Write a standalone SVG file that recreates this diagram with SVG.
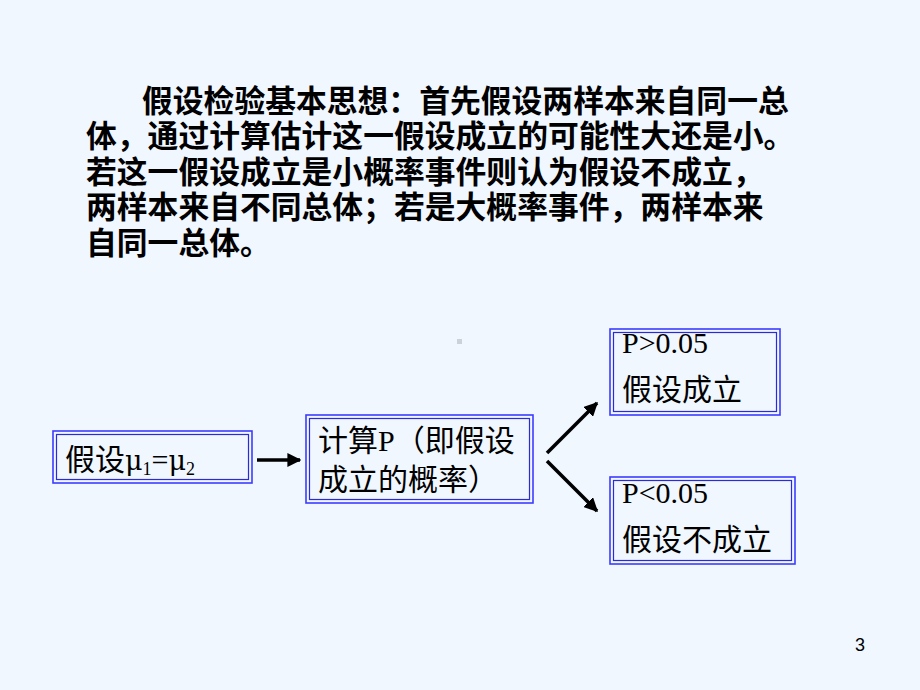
<svg xmlns="http://www.w3.org/2000/svg" width="920" height="690" viewBox="0 0 920 690">
<style>
.para{font-family:"Noto Sans CJK SC","Noto Sans",sans-serif;font-size:30.8px;font-weight:bold;fill:#000}
.bt{font-family:"Liberation Serif","Noto Sans CJK SC",serif;font-size:30px;fill:#000}
.outer{fill:none;stroke:#3c3cff;stroke-width:1.6}
.inner{fill:none;stroke:#2a2ad8;stroke-width:1.2}
.conn{stroke:#000;stroke-width:3.5;fill:none}
</style>
<defs>
<marker id="ah" viewBox="0 0 10 10" refX="9" refY="5" markerWidth="4" markerHeight="4" orient="auto" markerUnits="strokeWidth">
<path d="M0,0 L10,5 L0,10 Z" fill="#000"/>
</marker>
</defs>
<rect x="0" y="0" width="920" height="690" fill="#f0f7ff"/>
<g id="paragraph">
<text class="para" x="142" y="112">假设检验基本思想：首先假设两样本来自同一总</text>
<text class="para" x="86" y="147">体，通过计算估计这一假设成立的可能性大还是小。</text>
<text class="para" x="86" y="183">若这一假设成立是小概率事件则认为假设不成立，</text>
<text class="para" x="86" y="218">两样本来自不同总体；若是大概率事件，两样本来</text>
<text class="para" x="86" y="254">自同一总体。</text>
</g>
<rect x="457" y="339" width="5" height="5" fill="#ccd2dc"/>
<g id="node-hypothesis">
<rect class="outer" x="53" y="431" width="199" height="52"/>
<rect class="inner" x="56.5" y="434.5" width="192" height="45"/>
<text class="bt" x="65" y="470">假设<tspan font-family="DejaVu Serif" font-size="27">μ</tspan><tspan font-size="18" dy="5">1</tspan><tspan dy="-5">=</tspan><tspan font-family="DejaVu Serif" font-size="27">μ</tspan><tspan font-size="18" dy="5">2</tspan></text>
</g>
<g id="node-compute">
<rect class="outer" x="306" y="415" width="227" height="88"/>
<rect class="inner" x="309.5" y="418.5" width="220" height="81"/>
<text class="bt" x="318" y="451">计算P（即假设</text>
<text class="bt" x="318" y="490">成立的概率）</text>
</g>
<g id="node-accept">
<rect class="outer" x="610" y="329" width="170" height="86"/>
<rect class="inner" x="613.5" y="332.5" width="163" height="79"/>
<text class="bt" x="622" y="353">P&gt;0.05</text>
<text class="bt" x="622" y="400">假设成立</text>
</g>
<g id="node-reject">
<rect class="outer" x="610" y="477" width="185" height="87"/>
<rect class="inner" x="613.5" y="480.5" width="178" height="80"/>
<text class="bt" x="622" y="503">P&lt;0.05</text>
<text class="bt" x="622" y="550">假设不成立</text>
</g>
<g id="connectors">
<line class="conn" x1="257" y1="460" x2="300" y2="460" marker-end="url(#ah)"/>
<line class="conn" x1="547" y1="453" x2="597" y2="403" marker-end="url(#ah)"/>
<line class="conn" x1="547" y1="461" x2="597" y2="511" marker-end="url(#ah)"/>
</g>
<text x="855" y="651" font-family="Liberation Sans,sans-serif" font-size="18" fill="#000">3</text>
</svg>
